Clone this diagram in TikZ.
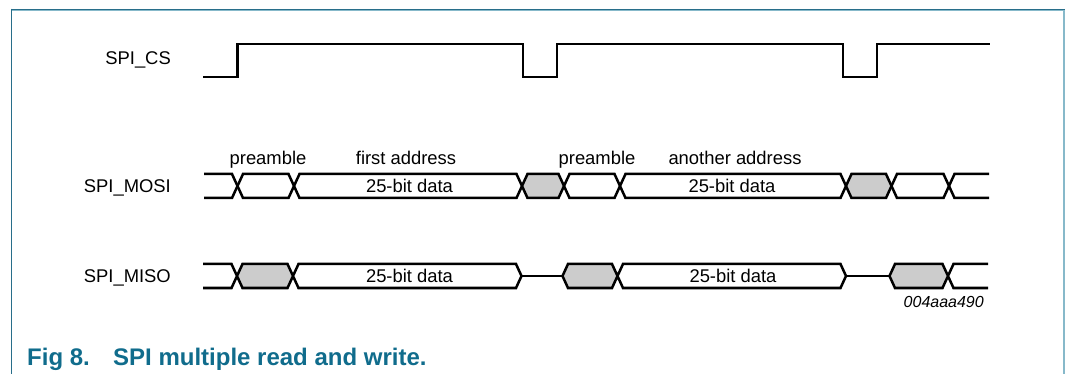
\documentclass[tikz,border=0pt]{standalone}
\usepackage{fontspec}
\setmainfont{Liberation Sans}
\definecolor{frameDark}{RGB}{40,110,138}
\definecolor{frameLight}{RGB}{135,185,202}
\definecolor{capTeal}{RGB}{16,108,140}
\definecolor{busGray}{RGB}{204,204,204}
\tikzset{
  sig/.style={line width=2.5pt, line join=miter, line cap=butt},
  midl/.style={line width=1.8pt},
  hexfill/.style={fill=busGray, draw=none},
  lbl/.style={font=\fontsize{18.4}{22}\selectfont, inner sep=0pt},
  signame/.style={lbl, anchor=base east},
  toplbl/.style={lbl, anchor=base},
  datalbl/.style={lbl, anchor=base},
  idlbl/.style={font=\fontsize{16}{19}\selectfont\itshape, inner sep=0pt, anchor=base east},
  caplbl/.style={font=\fontsize{24}{28}\selectfont\bfseries, text=capTeal, inner sep=0pt, anchor=base west}
}
\begin{document}
\begin{tikzpicture}[x=1pt,y=-1pt]
\useasboundingbox (0,0) rectangle (1066,374);
% frame
\draw[frameLight, line width=2.5pt] (1064,9) -- (1064,374);
\draw[frameDark, line width=1.3pt] (11,9.3) -- (1065,9.3);
\draw[frameLight, line width=1.2pt] (12,10.8) -- (1063,10.8);
\draw[frameDark, line width=1.6pt] (11.5,8.7) -- (11.5,374);

% signal names
\node[signame] (ncs) at (171,64.5) {SPI\_CS};
\node[signame] (nmosi) at (171,192.5) {SPI\_MOSI};
\node[signame] (nmiso) at (171,283) {SPI\_MISO};

% SPI_CS
\draw[sig] (203,77) -- (237.5,77) -- (237.5,44) -- (523,44) -- (523,77) -- (557,77) -- (557,44) -- (843,44) -- (843,77) -- (877,77) -- (877,44) -- (990,44);

% SPI_MOSI gray fields
\fill[hexfill] (522,186) -- (527.5,174) -- (558.5,174) -- (564,186) -- (558.5,198) -- (527.5,198) -- cycle;
\fill[hexfill] (846,186) -- (851.5,174) -- (886,174) -- (891.5,186) -- (886,198) -- (851.5,198) -- cycle;
% SPI_MOSI lines
\draw[sig] (204,174) -- (232,174) -- (243,198) -- (288.5,198) -- (299.5,174) -- (516.5,174) -- (527.5,198) -- (558.5,198) -- (569.5,174) -- (614.5,174) -- (625.5,198) -- (840.5,198) -- (851.5,174) -- (886,174) -- (897,198) -- (943.5,198) -- (954.5,174) -- (989,174);
\draw[sig] (204,198) -- (232,198) -- (243,174) -- (288.5,174) -- (299.5,198) -- (516.5,198) -- (527.5,174) -- (558.5,174) -- (569.5,198) -- (614.5,198) -- (625.5,174) -- (840.5,174) -- (851.5,198) -- (886,198) -- (897,174) -- (943.5,174) -- (954.5,198) -- (989,198);

% SPI_MISO gray fields
\fill[hexfill] (237,276) -- (242.5,264) -- (287.5,264) -- (293,276) -- (287.5,288) -- (242.5,288) -- cycle;
\fill[hexfill] (562.5,276) -- (568,264) -- (612,264) -- (617.5,276) -- (612,288) -- (568,288) -- cycle;
\fill[hexfill] (889.5,276) -- (895,264) -- (942.5,264) -- (948,276) -- (942.5,288) -- (895,288) -- cycle;
% SPI_MISO lines
\draw[sig] (203,264) -- (231.5,264) -- (242.5,288) -- (287.5,288) -- (298.5,264) -- (516,264) -- (521.5,276) -- (516,288) -- (298.5,288) -- (287.5,264) -- (242.5,264) -- (231.5,288) -- (203,288);
\draw[sig] (562.5,276) -- (568,264) -- (612,264) -- (623,288) -- (840.5,288) -- (846,276) -- (840.5,264) -- (623,264) -- (612,288) -- (568,288) -- cycle;
\draw[sig] (988,264) -- (953.5,264) -- (942.5,288) -- (895,288) -- (889.5,276) -- (895,264) -- (942.5,264) -- (953.5,288) -- (988,288);
\draw[midl] (521.5,276) -- (562.5,276);
\draw[midl] (846,276) -- (889.5,276);

% labels above MOSI
\node[toplbl] (pre1) at (268,165) {preamble};
\node[toplbl] (addr1) at (406,165) {first address};
\node[toplbl] (pre2) at (597,165) {preamble};
\node[toplbl] (addr2) at (735,165) {another address};

% data labels
\node[datalbl] (d1) at (409.5,192.5) {25-bit data};
\node[datalbl] (d2) at (732,192.5) {25-bit data};
\node[datalbl] (d3) at (409.5,282.5) {25-bit data};
\node[datalbl] (d4) at (733,282.5) {25-bit data};

% id
\node[idlbl] (fid) at (984,308) {004aaa490};

% caption
\node[caplbl] (capnum) at (27,365) {Fig 8.};
\node[caplbl] (captxt) at (113,365) {SPI multiple read and write.};
\end{tikzpicture}
\end{document}
